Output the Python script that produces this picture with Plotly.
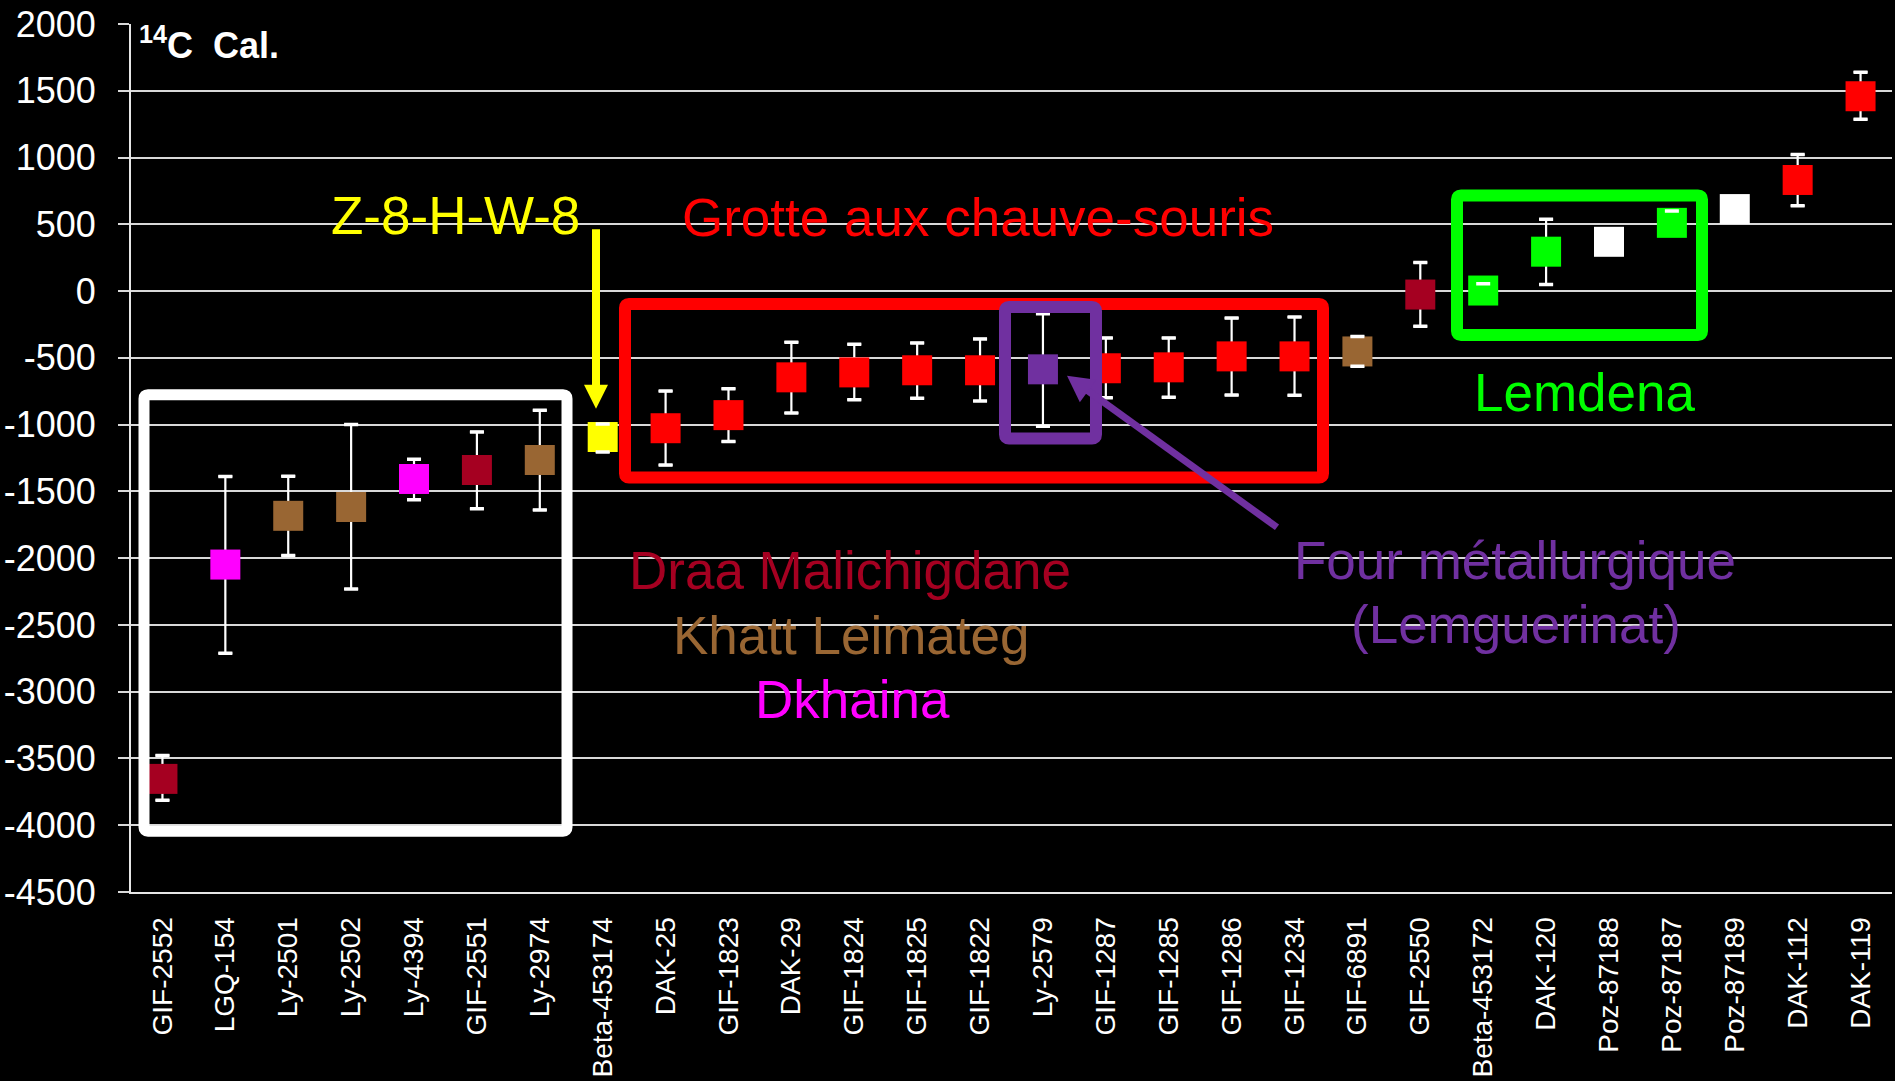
import plotly.graph_objects as go

# Sample identifiers along the x axis
labels = ["GIF-2552", "LGQ-154", "Ly-2501", "Ly-2502", "Ly-4394", "GIF-2551", "Ly-2974",
          "Beta-453174", "DAK-25", "GIF-1823", "DAK-29", "GIF-1824", "GIF-1825", "GIF-1822",
          "Ly-2579", "GIF-1287", "GIF-1285", "GIF-1286", "GIF-1234", "GIF-6891", "GIF-2550",
          "Beta-453172", "DAK-120", "Poz-87188", "Poz-87187", "Poz-87189", "DAK-112", "DAK-119"]

# Calibrated 14C ages (BC negative / AD positive)
ages = [-3653, -2048, -1683, -1617, -1407, -1340, -1265,
        -1093, -1027, -929, -646, -609, -593, -593,
        -586, -578, -571, -489, -489, -452, -26,
        4, 295, 369, 511, 614, 832, 1459]

# Upper and lower uncertainty (None = not shown)
err_plus = [176, 660, 297, 617, 148, 285, 372,
            98, 278, 198, 263, 211, 205, 235,
            417, 227, 220, 287, 295, 111, 240,
            51, 242, None, 88, None, 190, 180]
err_minus = [160, 664, 297, 614, 155, 290, 374,
             112, 276, 198, 267, 204, 210, 230,
             427, 221, 225, 290, 292, 110, 238,
             None, 245, None, None, None, 193, 173]

# Site colour of each sample
DRAA = "#A50021"
KHATT = "#996633"
DKHAINA = "#FF00FF"
GROTTE = "#FF0000"
FOUR = "#7030A0"
LEMDENA = "#00FF00"
ZHW = "#FFFF00"
OTHER = "#FFFFFF"
colors = [DRAA, DKHAINA, KHATT, KHATT, DKHAINA, DRAA, KHATT,
          ZHW, GROTTE, GROTTE, GROTTE, GROTTE, GROTTE, GROTTE,
          FOUR, GROTTE, GROTTE, GROTTE, GROTTE, KHATT, DRAA,
          LEMDENA, LEMDENA, OTHER, LEMDENA, OTHER, GROTTE, GROTTE]

y_ticks = list(range(-4500, 2001, 500))

FONT = "Liberation Sans, Arial, sans-serif"
W, H = 1895, 1081
ML, MR, MT, MB = 131, 3, 24, 186
PW, PH = W - ML - MR, H - MT - MB


def px_x(px):
    return (px - ML) / PW


def px_y(py):
    return (H - MB - py) / PH


fig = go.Figure()

# Markers with their error bars (bars sit beneath the squares)
fig.add_trace(go.Scatter(
    x=labels, y=ages, mode="markers",
    marker=dict(symbol="square", size=30, color=colors, line=dict(width=0)),
    error_y=dict(type="data", symmetric=False,
                 array=[0 if v is None else v for v in err_plus],
                 arrayminus=[0 if v is None else v for v in err_minus],
                 color="white", thickness=2.2, width=7),
    hoverinfo="x+y",
))

# Caps redrawn on top of the squares: upper caps, then lower caps
hat_idx = [i for i, v in enumerate(err_plus) if v is not None]
fig.add_trace(go.Scatter(
    x=[labels[i] for i in hat_idx], y=[ages[i] for i in hat_idx],
    mode="markers", marker=dict(opacity=0, size=1),
    error_y=dict(type="data", symmetric=False,
                 array=[err_plus[i] for i in hat_idx],
                 arrayminus=[-err_plus[i] for i in hat_idx],
                 color="white", thickness=3.5, width=7),
    hoverinfo="skip",
))
shoe_idx = [i for i, v in enumerate(err_minus) if v is not None]
fig.add_trace(go.Scatter(
    x=[labels[i] for i in shoe_idx], y=[ages[i] for i in shoe_idx],
    mode="markers", marker=dict(opacity=0, size=1),
    error_y=dict(type="data", symmetric=False,
                 array=[-err_minus[i] for i in shoe_idx],
                 arrayminus=[err_minus[i] for i in shoe_idx],
                 color="white", thickness=3.5, width=7),
    hoverinfo="skip",
))


def to_path(cmds):
    out = []
    for p in cmds:
        cmd, coords = p[0], p[1:]
        xy = [f"{px_x(coords[i]):.5f},{px_y(coords[i + 1]):.5f}"
              for i in range(0, len(coords), 2)]
        out.append(cmd + " " + " ".join(xy))
    return " ".join(out)


def rounded_box(x0, y0, x1, y1, r=4):
    return to_path([("M", x0 + r, y0), ("L", x1 - r, y0), ("Q", x1, y0, x1, y0 + r),
                    ("L", x1, y1 - r), ("Q", x1, y1, x1 - r, y1), ("L", x0 + r, y1),
                    ("Q", x0, y1, x0, y1 - r), ("L", x0, y0 + r),
                    ("Q", x0, y0, x0 + r, y0)]) + " Z"


boxes = [
    ((144, 396, 567, 834), "white", 11),
    ((625, 305, 1323, 479), GROTTE, 12),
    ((1005, 308, 1096, 440), FOUR, 12),
    ((1457, 196, 1702, 336), LEMDENA, 12),
]
for (x0, y0, x1, y1), col, lw in boxes:
    fig.add_shape(type="path", xref="paper", yref="paper",
                  path=rounded_box(x0, y0, x1, y1),
                  line=dict(color=col, width=lw), layer="above")


def arrow(tail, tip, width, head_len, head_half, color):
    (tx, ty), (hx, hy) = tail, tip
    dx, dy = hx - tx, hy - ty
    length = (dx * dx + dy * dy) ** 0.5
    ux, uy = dx / length, dy / length
    bx, by = hx - ux * head_len, hy - uy * head_len
    nx, ny = -uy, ux
    fig.add_shape(type="line", xref="paper", yref="paper",
                  x0=px_x(tx), y0=px_y(ty), x1=px_x(bx + ux), y1=px_y(by + uy),
                  line=dict(color=color, width=width), layer="above")
    fig.add_shape(type="path", xref="paper", yref="paper",
                  path=to_path([("M", hx, hy),
                                ("L", bx + nx * head_half, by + ny * head_half),
                                ("L", bx - nx * head_half, by - ny * head_half)]) + " Z",
                  line=dict(width=0), fillcolor=color, layer="above")


# Pointer arrows towards the Z-8-H-W-8 sample and the furnace sample
arrow((596, 230), (596, 410), 8, 24, 12, ZHW)
arrow((1277, 529), (1067, 377), 7, 26, 14, FOUR)

# Group labels: (text, centre x px, baseline px, colour)
group_labels = [
    ("Z-8-H-W-8", 455, 235, ZHW),
    ("Grotte aux chauve-souris", 978, 237, GROTTE),
    ("Lemdena", 1585, 412, LEMDENA),
    ("Draa Malichigdane", 850, 591, DRAA),
    ("Khatt Leimateg", 851, 656, KHATT),
    ("Dkhaina", 852, 720, DKHAINA),
    ("Four métallurgique", 1515, 581, FOUR),
    ("(Lemguerinat)", 1516, 645, FOUR),
]
FS = 53
for text, cx, base, col in group_labels:
    fig.add_annotation(text=text, xref="paper", yref="paper",
                       x=px_x(cx), y=px_y(base - 0.3465 * FS),
                       xanchor="center", yanchor="middle", showarrow=False,
                       font=dict(family=FONT, size=FS, color=col))

fig.add_annotation(text="<b><sup>14</sup>C&nbsp;&nbsp;Cal.</b>", xref="paper", yref="paper",
                   x=px_x(137), y=px_y(43), xanchor="left", yanchor="middle",
                   showarrow=False, font=dict(family=FONT, size=36, color="white"))

fig.update_layout(
    width=W, height=H,
    margin=dict(l=ML, r=MR, t=MT, b=MB, pad=0),
    paper_bgcolor="black", plot_bgcolor="black",
    showlegend=False,
    font=dict(family=FONT, color="white"),
    xaxis=dict(type="category", range=[-0.5, len(labels) - 0.5],
               showgrid=False, zeroline=False, showline=True, linecolor="#E6E6E6",
               linewidth=2, ticks="", tickangle=-90, ticklabelstandoff=12,
               tickfont=dict(family=FONT, size=28, color="white")),
    yaxis=dict(range=[-4500, 2000], tickvals=y_ticks, ticktext=[str(v) for v in y_ticks],
               showgrid=True, gridcolor="#D9D9D9", gridwidth=1.5,
               zeroline=True, zerolinecolor="#D9D9D9", zerolinewidth=1.5,
               showline=True, linecolor="#E6E6E6", linewidth=2,
               ticks="outside", ticklen=11, tickcolor="#D9D9D9", tickwidth=1.5,
               ticklabelstandoff=15,
               tickfont=dict(family=FONT, size=36, color="white")),
)

fig.write_html("out.html")
